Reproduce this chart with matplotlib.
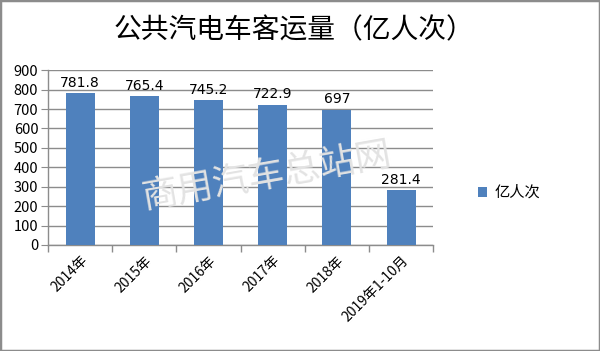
import matplotlib
matplotlib.use('Agg')
import matplotlib.pyplot as plt
from matplotlib.patches import Rectangle

plt.rcParams['font.family'] = ['Noto Sans CJK SC', 'DejaVu Sans']

categories = ['2014年', '2015年', '2016年', '2017年', '2018年', '2019年1-10月']
values = [781.8, 765.4, 745.2, 722.9, 697, 281.4]
value_labels = ['781.8', '765.4', '745.2', '722.9', '697', '281.4']
title = '公共汽电车客运量（亿人次）'
series_name = '亿人次'

bar_color = '#4F81BD'
grid_color = '#8C8C8C'

fig = plt.figure(figsize=(6, 3.51), dpi=100)
fig.patches.append(Rectangle((0, 0), 1, 1, transform=fig.transFigure,
                             fill=False, edgecolor='#8C8C8C', linewidth=2.5))

ax = fig.add_axes([0.08, 0.302, 0.642, 0.498])
x = list(range(len(categories)))
ax.bar(x, values, width=0.45, color=bar_color, label=series_name, zorder=3)

for xi, v, lab in zip(x, values, value_labels):
    ax.text(xi, v + 18, lab, ha='center', va='bottom', fontsize=10, color='black',
            family=['DejaVu Sans'])

ax.set_xlim(-0.5, len(categories) - 0.5)
ax.set_ylim(0, 900)
ax.set_yticks(range(0, 901, 100))
ax.yaxis.grid(True, color=grid_color, linewidth=1, zorder=0)
ax.set_axisbelow(True)

ax.set_xticks(x)
ax.set_xticklabels(categories, rotation=45, ha='right', va='top',
                   rotation_mode='anchor', fontsize=10)
ax.tick_params(axis='x', length=0, pad=6)
ax.set_xticks([i - 0.5 for i in range(len(categories) + 1)], minor=True)
ax.tick_params(axis='x', which='minor', length=5, color=grid_color, width=1)
ax.tick_params(axis='y', length=5, color=grid_color, labelsize=10.5, pad=2)

for s in ['top', 'right']:
    ax.spines[s].set_visible(False)
for s in ['left', 'bottom']:
    ax.spines[s].set_color(grid_color)
    ax.spines[s].set_linewidth(1)

fig.text(0.49, 0.915, title, ha='center', va='center', fontsize=20)

fig.text(0.445, 0.5, '商用汽车总站网', ha='center', va='center', fontsize=26,
         color='#E3E3E3', rotation=10, zorder=0)

ax.legend(loc='center left', bbox_to_anchor=(1.08, 0.3), frameon=False,
          fontsize=11, handlelength=0.6, handleheight=0.6, handletextpad=0.5)

fig.savefig('out.png', dpi=100)
